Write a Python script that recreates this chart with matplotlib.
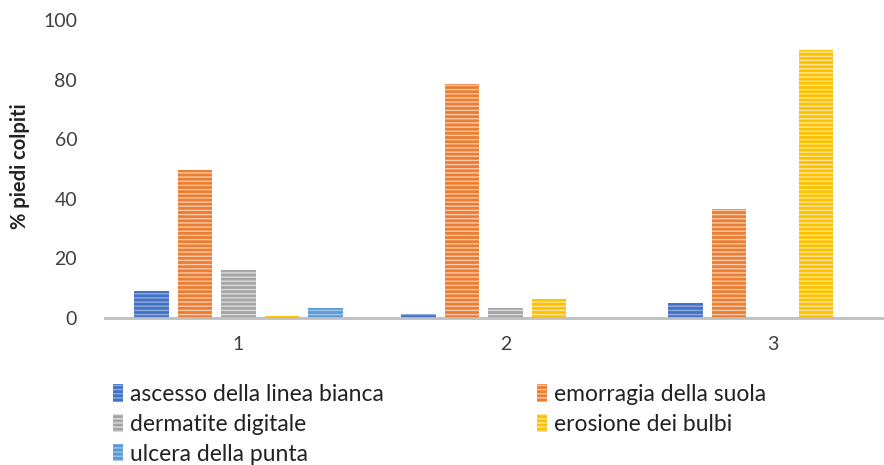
import matplotlib.pyplot as plt
import numpy as np

# data
groups = ["1", "2", "3"]
series = ["ascesso della linea bianca", "emorragia della suola",
          "dermatite digitale", "erosione dei bulbi", "ulcera della punta"]
ascesso = [9, 1.3, 5]
emorragia = [49.8, 78.5, 36.5]
dermatite = [16, 3.3, 0]
erosione = [0.6, 6.3, 90]
ulcera = [3.3, 0, 0]

colors = ["#4472C4", "#ED7D31", "#A5A5A5", "#FFC000", "#5B9BD5"]
stripes = ["#8FAADC", "#F8CBAD", "#DBDBDB", "#FFE699", "#9DC3E6"]

plt.rcParams['font.family'] = ['Lato', 'DejaVu Sans']
plt.rcParams['hatch.linewidth'] = 1.0

fig = plt.figure(figsize=(8.84, 4.65), dpi=100)
ax = fig.add_axes([105 / 884, (465 - 318) / 465, (906 - 105) / 884, 298 / 465])

x = np.arange(len(groups))
width = 0.13
step = 0.163
values = [ascesso, emorragia, dermatite, erosione, ulcera]
bars = []
for i, (name, vals) in enumerate(zip(series, values)):
    b = ax.bar(x + (i - 2) * step, vals, width, color=colors[i],
               edgecolor=stripes[i], linewidth=0, hatch='----', label=name, zorder=2)
    bars.append(b)

ax.set_xlim(-0.5, 2.5)
ax.set_ylim(0, 100)
ax.set_yticks(range(0, 101, 20))
ax.set_xticks(x)
ax.set_xticklabels(groups)
ax.tick_params(axis='both', length=0, labelsize=14, colors='#404040')
ax.tick_params(axis='y', pad=20)
ax.tick_params(axis='x', pad=13)
for s in ['top', 'right', 'left']:
    ax.spines[s].set_visible(False)
ax.spines['bottom'].set_color('#BFBFBF')
ax.spines['bottom'].set_linewidth(2)
ax.spines['bottom'].set_zorder(3)

fig.text(20 / 884, (465 - 166) / 465, "% piedi colpiti", rotation=90,
         ha='center', va='center', fontsize=14.5, fontweight='bold', color='#222222')

# row-wise order like the reference legend
order = [0, 2, 4, 1, 3]
leg = fig.legend([bars[i] for i in order], [series[i] for i in order],
                 loc='upper left', bbox_to_anchor=(104 / 884, (465 - 375) / 465),
                 ncol=2, frameon=False, fontsize=16.5, handlelength=0.45,
                 handleheight=0.8, handletextpad=0.3, columnspacing=6.65,
                 labelspacing=0.38, borderaxespad=0)
for t in leg.get_texts():
    t.set_color('#222222')

fig.savefig("out.png", dpi=100)
